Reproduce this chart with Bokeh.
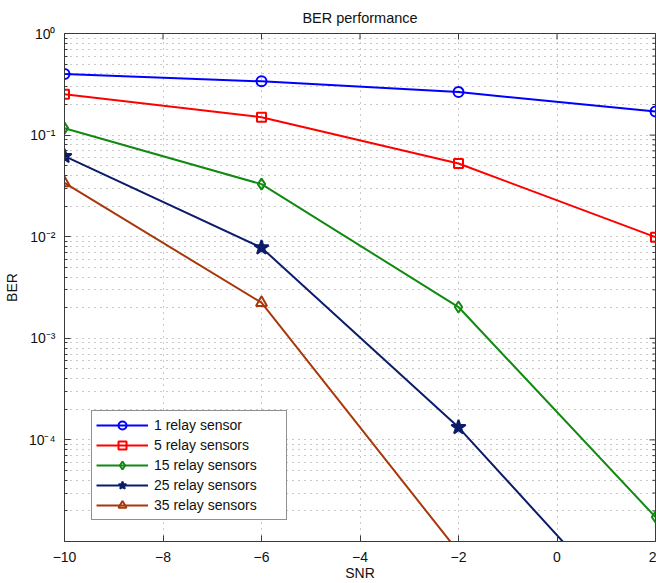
import math
from bokeh.plotting import figure
from bokeh.models import FixedTicker, Range1d
from bokeh.embed import file_html
from bokeh.resources import INLINE

# ---- data ----
snr = [-10, -6, -2, 2]
ber_1 = [0.40, 0.338, 0.265, 0.171]
ber_5 = [0.253, 0.150, 0.0525, 0.0099]
ber_15 = [0.117, 0.0329, 0.00203, 1.74e-5]
ber_25 = [0.062, 0.0078, 1.33e-4, 1.0e-6]
ber_35 = [0.0338, 0.00224, 7.9e-6, 2.0e-8]

series_labels = ["1 relay sensor", "5 relay sensors", "15 relay sensors",
                 "25 relay sensors", "35 relay sensors"]
x_ticks = [-10, -8, -6, -4, -2, 0, 2]
x_tick_labels = ["\u221210", "\u22128", "\u22126", "\u22124", "\u22122", "0", "2"]
y_exponents = [0, -1, -2, -3, -4, -5]
y_tick_labels = ["10\u2070", "10\u207b\u00b9", "10\u207b\u00b2", "10\u207b\u00b3",
                 "10\u207b\u2074", ""]

FONT = "Liberation Sans"
AX = "#3a3a3a"
GRID = "#959595"
X0, X1 = -10, 2
Y0, Y1 = 1e-5, 1

p = figure(width=656, height=583, x_range=Range1d(X0, X1), y_range=Range1d(Y0, Y1),
           y_axis_type="log", output_backend="svg", toolbar_location=None,
           min_border_left=61, min_border_right=1, min_border_top=32, min_border_bottom=41,
           title="BER performance")
p.background_fill_color = "white"
p.border_fill_color = "white"
p.outline_line_color = AX
p.outline_line_width = 1

p.title.text_font = FONT
p.title.text_font_size = "14.5px"
p.title.text_font_style = "normal"
p.title.text_color = "#111111"
p.title.align = "center"
p.title.standoff = 15

y_major = [10.0 ** e for e in y_exponents]
y_minor = [m * 10.0 ** e for e in y_exponents[1:] for m in range(2, 10)]

xa = p.xaxis[0]
xa.ticker = FixedTicker(ticks=x_ticks)
xa.major_label_overrides = {t: l for t, l in zip(x_ticks, x_tick_labels)}
xa.axis_label = "SNR"
ya = p.yaxis[0]
ya.ticker = FixedTicker(ticks=y_major, minor_ticks=y_minor)
ya.major_label_overrides = {v: (l if l else " ") for v, l in zip(y_major, y_tick_labels)}
ya.axis_label = "BER"
for ax in (xa, ya):
    ax.axis_line_color = AX
    ax.major_tick_line_color = AX
    ax.minor_tick_line_color = AX
    ax.major_tick_in = 6
    ax.major_tick_out = 0
    ax.minor_tick_in = 3
    ax.minor_tick_out = 0
    ax.major_label_text_font = FONT
    ax.major_label_text_font_size = "14px"
    ax.major_label_text_color = "#111111"
    ax.axis_label_text_font = FONT
    ax.axis_label_text_font_size = "14px"
    ax.axis_label_text_font_style = "normal"
    ax.axis_label_text_color = "#111111"
xa.major_label_standoff = 10
xa.axis_label_standoff = 0
ya.major_label_standoff = 9
ya.axis_label_standoff = 6

# grids
p.xgrid.ticker = FixedTicker(ticks=x_ticks)
p.xgrid.grid_line_color = GRID
p.xgrid.grid_line_dash = "1 5"
p.ygrid.ticker = FixedTicker(ticks=y_major, minor_ticks=y_minor)
p.ygrid.grid_line_color = GRID
p.ygrid.grid_line_dash = "1 5"
p.ygrid.minor_grid_line_color = GRID
p.ygrid.minor_grid_line_dash = "1 5"

# inward ticks on the top and right edges (half of each dash is clipped by the frame)
p.scatter(x_ticks, [Y1] * len(x_ticks), marker="dash", angle=math.pi / 2, size=12,
          line_color=AX, line_width=1)
p.scatter([X1] * len(y_major), y_major, marker="dash", size=12, line_color=AX, line_width=1)
p.scatter([X1] * len(y_minor), y_minor, marker="dash", size=6, line_color=AX, line_width=1)

series = [ber_1, ber_5, ber_15, ber_25, ber_35]
colors = ["#0000ff", "#ff0000", "#118a11", "#0b1c6a", "#a8380c"]
markers = ["circle", "square", "diamond", "star", "triangle"]
sizes = [10, 9, 11, 15, 11]
fills = [None, None, None, "#0b1c6a", None]

for ys, c, m, s, f, lbl in zip(series, colors, markers, sizes, fills, series_labels):
    p.line(snr, ys, line_color=c, line_width=2, legend_label=lbl)
    p.scatter(snr, ys, marker=m, size=s, line_color=c, line_width=2,
              fill_color=f, legend_label=lbl)

lg = p.legend[0]
lg.location = (27, 21)
lg.border_line_color = "#222222"
lg.border_line_width = 1
lg.background_fill_color = "white"
lg.background_fill_alpha = 1
lg.padding = 4
lg.spacing = 0
lg.margin = 0
lg.glyph_width = 52
lg.glyph_height = 20
lg.label_height = 20
lg.label_standoff = 6
lg.label_width = 128
lg.label_text_font = FONT
lg.label_text_font_size = "14px"
lg.label_text_color = "#111111"

open("out.html", "w").write(file_html(p, INLINE))
